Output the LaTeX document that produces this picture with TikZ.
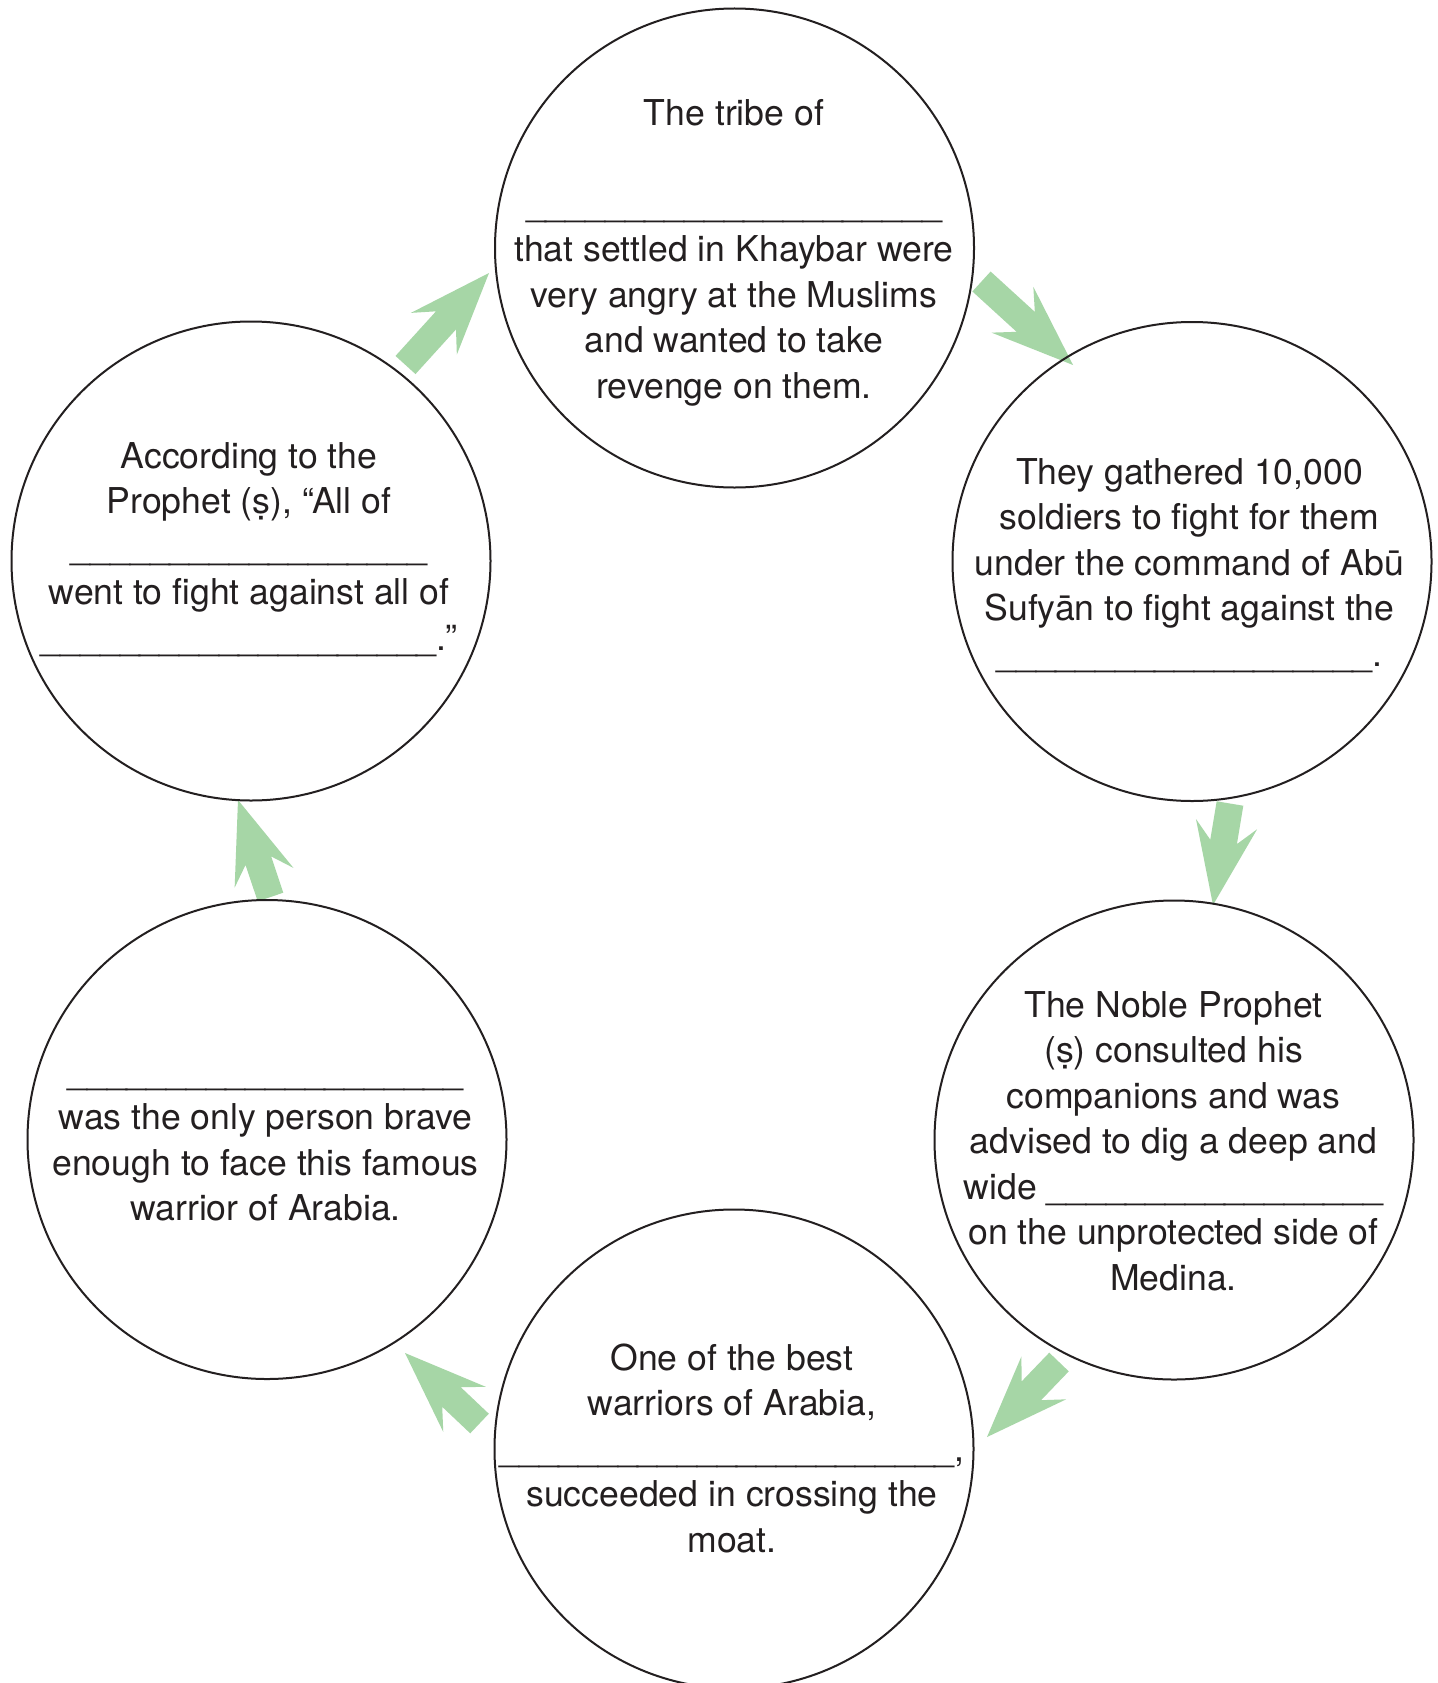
\documentclass[tikz,border=0pt]{standalone}
\usepackage{fontspec}
\setmainfont{TeX Gyre Heros}
\usetikzlibrary{calc}
\definecolor{arrowgreen}{RGB}{166,214,166}
\definecolor{ink}{RGB}{35,31,32}
\ExplSyntaxOn
\cs_new:Npn \blankline #1 {\prg_replicate:nn {#1} {\textunderscore}}
\ExplSyntaxOff
% block arrow: #1 = tip, #2 = tail (middle of shaft end)
\newcommand{\blockarrow}[2]{%
  \fill[arrowgreen] (#1)
    -- ($(#1)!82pt!(#2)!31pt!90:(#2)$)
    -- ($(#1)!64pt!(#2)!13.5pt!90:(#2)$)
    -- ($(#2)!13.5pt!-90:(#1)$)
    -- ($(#2)!13.5pt!90:(#1)$)
    -- ($(#1)!64pt!(#2)!13.5pt!-90:(#2)$)
    -- ($(#1)!82pt!(#2)!31pt!-90:(#2)$)
    -- cycle;}
\begin{document}
\begin{tikzpicture}[x=1pt,y=-1pt,
  circ/.style={circle, draw=ink, line width=2pt, minimum size=479pt, inner sep=0pt},
  txt/.style={align=center, text=ink, font=\fontsize{35.6}{45.5}\selectfont, inner sep=0pt}]
\useasboundingbox (0,0) rectangle (1437,1683);
\fill[white] (0,0) rectangle (1437,1683);

% arrow end points
\coordinate (a1tip) at (489,273);   \coordinate (a1tail) at (405.5,365);
\coordinate (a2tip) at (1073,365);  \coordinate (a2tail) at (981.5,281.5);
\coordinate (a3tip) at (1213,905);  \coordinate (a3tail) at (1230,803.5);
\coordinate (a4tip) at (987,1437);  \coordinate (a4tail) at (1059,1362);
\coordinate (a5tip) at (405,1353);  \coordinate (a5tail) at (479.5,1423.5);
\coordinate (a6tip) at (238,800);   \coordinate (a6tail) at (270.5,897);

\blockarrow{a1tip}{a1tail}
\blockarrow{a2tip}{a2tail}
\blockarrow{a3tip}{a3tail}
\blockarrow{a4tip}{a4tail}
\blockarrow{a5tip}{a5tail}
\blockarrow{a6tip}{a6tail}

% circles
\node[circ] (T)  at (734.5,248) {};
\node[circ] (RT) at (1192,561.5) {};
\node[circ] (RB) at (1174,1140) {};
\node[circ] (B)  at (734,1449) {};
\node[circ] (LB) at (267,1139.5) {};
\node[circ] (LT) at (251,561) {};

% texts
\node[txt] (tT) at (734,252.4) {\strut The tribe of\\ \strut\\ \strut\blankline{21}\\
  \strut that settled in Khaybar were\\ \strut very angry at the Muslims\\
  \strut and wanted to take\\ \strut revenge on them.};
\node[txt] (tRT) at (1189.5,565.9) {\strut They gathered 10,000\\ \strut soldiers to fight for them\\
  \strut under the command of Abū\\ \strut Sufyān to fight against the\\ \strut\blankline{19}.};
\node[txt] (tRB) at (1173.5,1144.4) {\strut The Noble Prophet\\ \strut (ṣ) consulted his\\
  \strut companions and was\\ \strut advised to dig a deep and\\ \strut wide \blankline{17}\\
  \strut on the unprotected side of\\ \strut Medina.};
\node[txt] (tB) at (732,1451.9) {\strut One of the best\\ \strut warriors of Arabia,\\
  \strut\blankline{23},\\ \strut succeeded in crossing the\\ \strut moat.};
\node[txt] (tLB) at (265.5,1143.2) {\strut\blankline{20}\\ \strut was the only person brave\\
  \strut enough to face this famous\\ \strut warrior of Arabia.};
\node[txt] (tLT) at (249,549.9) {\strut According to the\\ \strut Prophet (ṣ), “All of\\
  \strut\blankline{18}\\ \strut went to fight against all of\\ \strut\blankline{20}.”};
\end{tikzpicture}
\end{document}
